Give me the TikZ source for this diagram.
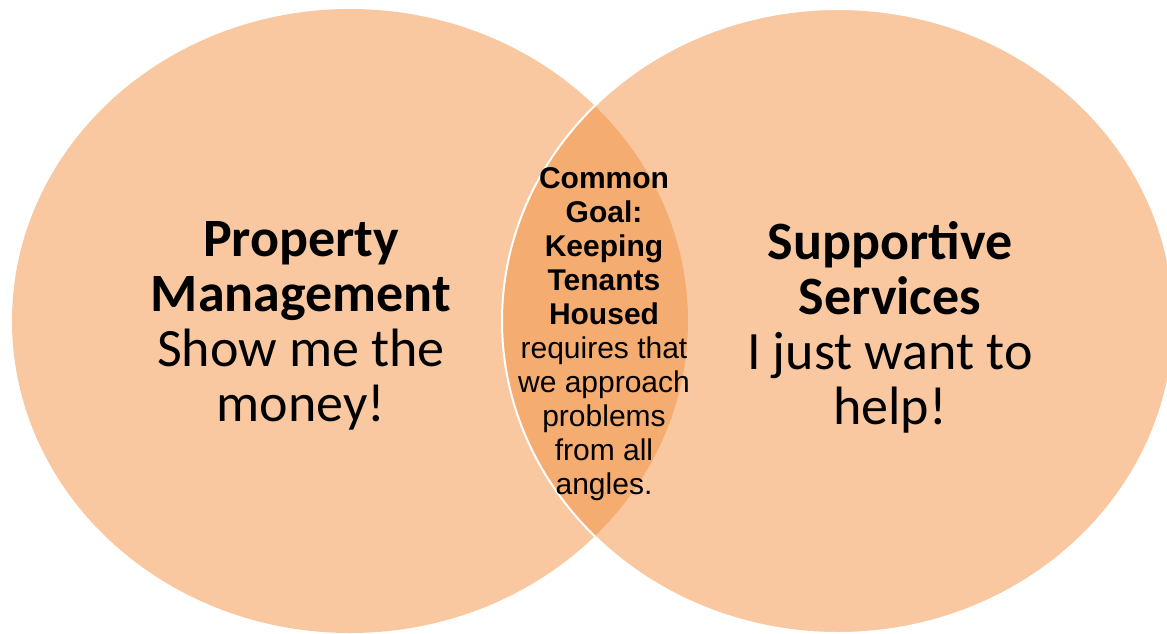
\documentclass[tikz,border=0pt]{standalone}
\usepackage{fontspec}
\setmainfont{Carlito}
\newfontfamily\arialfont{Liberation Sans}
\definecolor{peach}{RGB}{249,200,160}
\definecolor{peachdark}{RGB}{245,172,113}

\begin{document}
\begin{tikzpicture}[x=0.5pt, y=-0.5pt]
    \tikzstyle{sidetext} = [inner sep=0pt, anchor=north, align=center, font=\fontsize{27}{27.5}\selectfont]
    \tikzstyle{midtext} = [inner sep=0pt, anchor=north, align=center, font=\arialfont\fontsize{15}{17}\selectfont]

    \useasboundingbox (0,0) rectangle (1167,633);

    % the two sets
    \fill[peach] (350,321) ellipse [x radius=338, y radius=312];
    \fill[peach] (838,321) ellipse [x radius=336, y radius=312];
    \begin{scope}
        \clip (350,321) ellipse [x radius=338, y radius=312];
        \fill[peachdark] (838,321) ellipse [x radius=336, y radius=312];
    \end{scope}
    \draw[white, line width=1pt] (838,321) ellipse [x radius=336, y radius=312];

    % labels
    \node[sidetext] (PM) at (301,221) {\textbf{Property}\\\textbf{Management}\\Show me the\\money!};
    \node[sidetext] (SS) at (890,221) {\textbf{Supportive}\\\textbf{Services}\\I just want to\\help!};
    \node[midtext] (CG) at (604,167) {\textbf{Common}\\\textbf{Goal:}\\\textbf{Keeping}\\\textbf{Tenants}\\\textbf{Housed}\\requires that\\we approach\\problems\\from all\\angles.};
\end{tikzpicture}
\end{document}
